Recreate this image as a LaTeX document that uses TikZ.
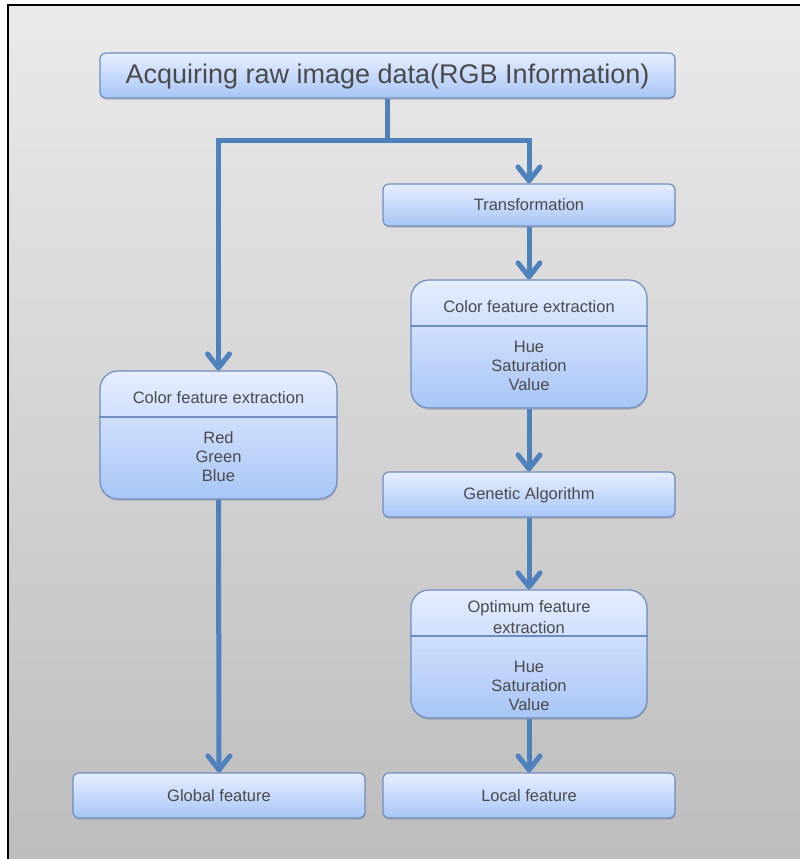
\documentclass[tikz,border=0pt]{standalone}
\usepackage{fontspec}
\setmainfont{Liberation Sans}
\usetikzlibrary{arrows.meta,shadows}
\definecolor{bgtop}{HTML}{EAEAEA}
\definecolor{bgbot}{HTML}{BDBDBD}
\definecolor{boxtop}{HTML}{E6EEFF}
\definecolor{boxbot}{HTML}{A8C5F6}
\definecolor{boxline}{HTML}{6F8DC0}
\definecolor{conncol}{HTML}{4F81BD}
\definecolor{txtcol}{HTML}{4A4A4A}
\tikzset{
  box/.style={draw=boxline, line width=1.2pt, top color=boxtop, bottom color=boxbot,
    rounded corners=6pt, inner sep=0pt,
    drop shadow={shadow xshift=0.6pt, shadow yshift=-1.8pt, opacity=0.35}},
  bigbox/.style={box, rounded corners=18pt},
  divider/.style={draw=boxline, line width=1.2pt},
  txt/.style={text=txtcol, font=\fontsize{16.5}{19}\selectfont, align=center, inner sep=0pt},
  conn/.style={draw=conncol, line width=5pt},
  arr/.style={conn, -{Straight Barb[length=14pt,width=22pt,round]}},
  darr/.style={conn, {Straight Barb[length=14pt,width=22pt,round]}-{Straight Barb[length=14pt,width=22pt,round]}}
}
\begin{document}
\begin{tikzpicture}[x=1pt,y=-1pt]
\useasboundingbox (0,0) rectangle (800,859);
\fill[white] (0,0) rectangle (800,859);
\shade[top color=bgtop, bottom color=bgbot] (8,5) rectangle (800,859);
\draw[black, line width=2pt] (8,859) -- (8,5) -- (800,5);

% boxes
\node[box, minimum width=575pt, minimum height=45pt] (acq) at (387.5,75.5) {};
\node[txt, font=\fontsize{27}{30}\selectfont] (acqt) at (387.5,77) {Acquiring raw image data(RGB Information)};

\node[box, minimum width=292pt, minimum height=42pt] (trans) at (529,205) {};
\node[txt] (transt) at (529,205) {Transformation};

\node[bigbox, minimum width=236pt, minimum height=128pt] (cfR) at (529,344) {};
\draw[divider] (cfR.west |- 0,326) coordinate (cfRdl) -- (cfR.east |- 0,326) coordinate (cfRdr);
\node[txt] (cfRt) at (529,307) {Color feature extraction};
\node[txt] (cfRb) at (529,366) {Hue\\Saturation\\Value};

\node[box, minimum width=292pt, minimum height=45pt] (ga) at (529,494.5) {};
\node[txt] (gat) at (529,495) {Genetic Algorithm};

\node[bigbox, minimum width=236pt, minimum height=128pt] (opt) at (529,654) {};
\draw[divider] (opt.west |- 0,636) coordinate (optdl) -- (opt.east |- 0,636) coordinate (optdr);
\node[txt, font=\fontsize{16.5}{21}\selectfont] (optt) at (529,617.5) {Optimum feature\\extraction};
\node[txt] (optb) at (529,686) {Hue\\Saturation\\Value};

\node[box, minimum width=292pt, minimum height=45pt] (loc) at (529,795.5) {};
\node[txt] (loct) at (529,796) {Local feature};

\node[bigbox, minimum width=237pt, minimum height=128pt] (cfL) at (218.5,435) {};
\draw[divider] (cfL.west |- 0,417) coordinate (cfLdl) -- (cfL.east |- 0,417) coordinate (cfLdr);
\node[txt] (cfLt) at (218.5,398) {Color feature extraction};
\node[txt] (cfLb) at (218.5,457) {Red\\Green\\Blue};

\node[box, minimum width=292pt, minimum height=45pt] (glob) at (219,795.5) {};
\node[txt] (globt) at (219,796) {Global feature};

% connectors
\coordinate (split) at (acq.south |- 0,140);
\draw[conn] (acq.south) -- (split);
\draw[darr] (cfL.north) |- (split) -| (trans.north);
\draw[arr] (trans.south) -- (cfR.north);
\draw[arr] (cfR.south) -- (ga.north);
\draw[arr] (ga.south) -- (opt.north);
\draw[arr] (opt.south) -- (loc.north);
\draw[arr] (cfL.south) -- (glob.north);
\end{tikzpicture}
\end{document}
